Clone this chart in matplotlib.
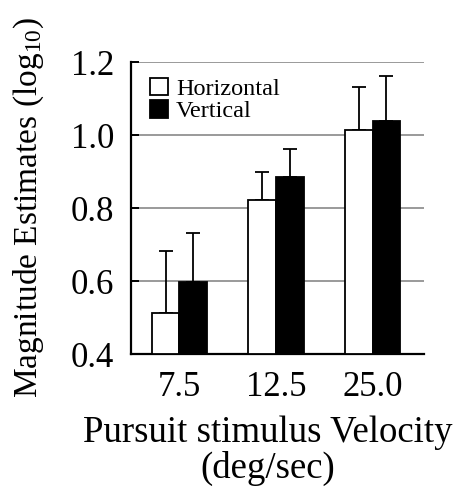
import numpy as np
import matplotlib
matplotlib.use("Agg")
import matplotlib.pyplot as plt

# values
velocities = ["7.5", "12.5", "25.0"]
horizontal = [0.511, 0.823, 1.014]
horizontal_err = [0.171, 0.077, 0.117]
vertical = [0.597, 0.884, 1.039]
vertical_err = [0.134, 0.077, 0.123]

plt.rcParams["font.family"] = "Liberation Serif"
plt.rcParams["mathtext.fontset"] = "custom"
plt.rcParams["mathtext.rm"] = "Liberation Serif"
plt.rcParams["mathtext.it"] = "Liberation Serif:italic"

fig = plt.figure(figsize=(4.63, 4.91), dpi=100)
ax = fig.add_axes([0.2829, 0.279, 0.6328, 0.5947])

x = np.arange(len(velocities))
w = 0.285

ax.bar(x - w, [h - 0.4 for h in horizontal], w, bottom=0.4, align="edge",
       color="white", edgecolor="black", linewidth=1.3, zorder=3,
       label="Horizontal")
ax.bar(x, [v - 0.4 for v in vertical], w, bottom=0.4, align="edge",
       color="black", edgecolor="black", linewidth=1.3, zorder=3,
       label="Vertical")

zeros = np.zeros(len(x))
ax.errorbar(x - w / 2, horizontal, yerr=[zeros, horizontal_err], fmt="none",
            ecolor="black", elinewidth=1.3, capsize=5, capthick=1.3, zorder=2)
ax.errorbar(x + w / 2, vertical, yerr=[zeros, vertical_err], fmt="none",
            ecolor="black", elinewidth=1.3, capsize=5, capthick=1.3, zorder=2)

ax.set_xlim(-0.5, 2.53)
ax.set_ylim(0.4, 1.2)
ax.set_yticks([0.4, 0.6, 0.8, 1.0, 1.2])
ax.set_yticklabels(["0.4", "0.6", "0.8", "1.0", "1.2"])
ax.set_xticks(x)
ax.set_xticklabels(velocities)

ax.yaxis.grid(True, color="#9a9a9a", linewidth=1.4, zorder=0)
ax.set_axisbelow(True)

for s in ["top", "right"]:
    ax.spines[s].set_visible(False)
for s in ["left", "bottom"]:
    ax.spines[s].set_linewidth(1.6)

ax.tick_params(axis="y", direction="in", length=6, width=1.4, pad=12,
               labelsize=25)
ax.tick_params(axis="x", length=0, pad=12, labelsize=25)

ax.set_ylabel(r"Magnitude Estimates (log$_{\mathregular{10}}$)", fontsize=24)
ax.yaxis.set_label_coords(-0.29, 0.5)
ax.set_xlabel("Pursuit stimulus Velocity\n(deg/sec)", fontsize=26.5,
              linespacing=1.05)
ax.xaxis.set_label_coords(0.468, -0.21)

ax.legend(loc="upper left", bbox_to_anchor=(0.065, 0.945), frameon=False,
          fontsize=17.5, handlelength=0.72, handleheight=0.72,
          handletextpad=0.35, labelspacing=0.0, borderpad=0,
          borderaxespad=0)

fig.savefig("out.png", dpi=100)
